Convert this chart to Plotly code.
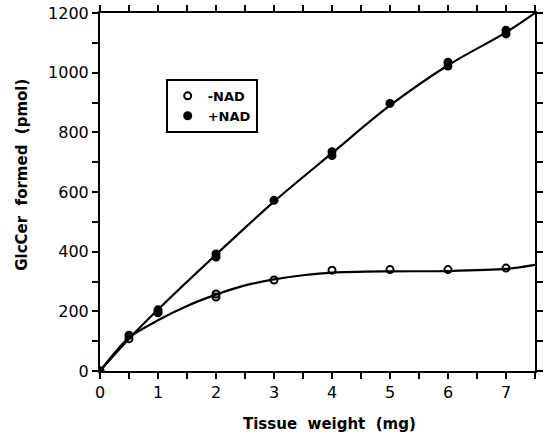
import plotly.graph_objects as go

# Measured points
plus_x = [0, 0.5, 1, 1, 2, 2, 3, 4, 4, 5, 6, 6, 7, 7]
plus_y = [0, 120, 205, 195, 392, 382, 572, 735, 722, 897, 1035, 1022, 1142, 1130]
minus_x = [0, 0.5, 1, 2, 2, 3, 4, 5, 6, 7]
minus_y = [0, 108, 198, 258, 248, 305, 338, 340, 340, 345]

# Fitted curves
plus_curve_x = [0, 0.5, 1, 2, 3, 4, 5, 6, 7, 7.5]
plus_curve_y = [0, 108, 206, 390, 568, 730, 890, 1025, 1135, 1200]
minus_curve_x = [0, 0.5, 1, 1.5, 2, 2.5, 3, 3.5, 4, 5, 6, 7, 7.5]
minus_curve_y = [0, 112, 170, 218, 256, 287, 307, 321, 330, 334, 335, 342, 356]

x_ticks = [0, 1, 2, 3, 4, 5, 6, 7]
y_ticks = [0, 200, 400, 600, 800, 1000, 1200]

fig = go.Figure()
fig.add_trace(go.Scatter(x=plus_curve_x, y=plus_curve_y, mode="lines",
                         line=dict(color="black", width=2.2, shape="spline"),
                         showlegend=False, hoverinfo="skip"))
fig.add_trace(go.Scatter(x=minus_curve_x, y=minus_curve_y, mode="lines",
                         line=dict(color="black", width=2.2, shape="spline", smoothing=0.8),
                         showlegend=False, hoverinfo="skip"))
fig.add_trace(go.Scatter(x=minus_x, y=minus_y, mode="markers", name="-NAD",
                         marker=dict(symbol="circle-open", size=7, color="black",
                                     line=dict(width=2, color="black"))))
fig.add_trace(go.Scatter(x=plus_x, y=plus_y, mode="markers", name="+NAD",
                         marker=dict(symbol="circle", size=9, color="black")))

axis_common = dict(showline=True, linecolor="black", linewidth=2, mirror="ticks",
                   ticks="outside", ticklen=6, tickwidth=2, tickcolor="black",
                   showgrid=False, zeroline=False,
                   tickfont=dict(family="DejaVu Sans", size=16, color="black"))

fig.update_xaxes(range=[0, 7.5], tickvals=x_ticks,
                 minor=dict(dtick=0.5, ticks="outside", ticklen=6, tickwidth=2,
                            tickcolor="black", showgrid=False),
                 **axis_common)
fig.update_yaxes(range=[0, 1200], tickvals=y_ticks,
                 minor=dict(dtick=100, ticks="outside", ticklen=6, tickwidth=2,
                            tickcolor="black", showgrid=False),
                 **axis_common)

title_font = dict(family="DejaVu Sans", size=15, color="black", weight="bold")
fig.add_annotation(text="Tissue  weight  (mg)", xref="paper", yref="paper",
                   x=0.528, y=-0.148, xanchor="center", yanchor="middle",
                   showarrow=False, font=title_font)
fig.add_annotation(text="GlcCer  formed  (pmol)", xref="paper", yref="paper",
                   x=-0.178, y=0.547, xanchor="center", yanchor="middle",
                   textangle=-90, showarrow=False, font=title_font)

fig.update_layout(
    width=547, height=441,
    margin=dict(l=100, r=4, t=12, b=70),
    paper_bgcolor="white", plot_bgcolor="white",
    legend=dict(x=0.151, y=0.816, xanchor="left", yanchor="top",
                bordercolor="black", borderwidth=2, bgcolor="white",
                itemwidth=30, tracegroupgap=0, entrywidth=95,
                font=dict(family="DejaVu Sans", size=13, color="black", weight="bold")),
)

fig.write_html("out.html")
